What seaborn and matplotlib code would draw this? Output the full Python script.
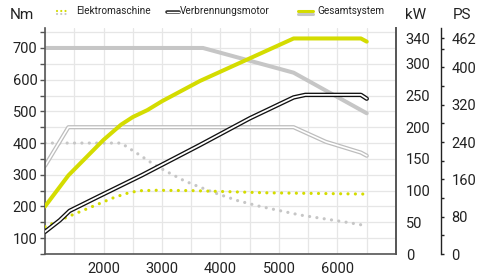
"""
Drehmoment- und Leistungskurven: Elektromaschine, Verbrennungsmotor, Gesamtsystem.
"""

import matplotlib

matplotlib.use("Agg")
import matplotlib.pyplot as plt
import seaborn as sns
from matplotlib.lines import Line2D
from matplotlib.ticker import FixedLocator, MultipleLocator

# --- data (rpm vs Nm / kW) -------------------------------------------------
gesamt_nm_rpm = [1000, 3700, 5250, 6500]
gesamt_nm = [700, 700, 622, 494]

gesamt_kw_rpm = [1000, 1400, 2000, 2300, 2500, 2750, 3000, 3650, 5250, 6400, 6500]
gesamt_kw = [75, 124, 180, 204, 216, 227, 241, 273, 340, 340, 335]

vm_nm_rpm = [1000, 1400, 5250, 5800, 6400, 6500]
vm_nm = [328, 450, 450, 404, 370, 360]

vm_kw_rpm = [1000, 1250, 1420, 1900, 2650, 3650, 4500, 5250, 5450, 6400, 6500]
vm_kw = [35, 53, 68, 90, 124, 172, 214, 247, 251, 251, 245]

em_nm_rpm = [1000, 2300, 2620, 2850, 3050, 3380, 3620, 3930, 4300, 4680, 5360, 6160, 6500]
em_nm = [400, 400, 362, 334, 313, 281, 263, 241, 218, 200, 173, 150, 139]

em_kw_rpm = [1000, 1450, 1800, 2150, 2370, 2600, 2900, 3500, 4800, 6500]
em_kw = [43, 61, 74.5, 88, 95, 99.8, 100.5, 100, 96.5, 94.5]

legend_labels = ["Elektromaschine", "Verbrennungsmotor", "Gesamtsystem"]
ps_ticks = [0, 80, 160, 240, 320, 400, 462]
kw_ticks = [0, 50, 100, 150, 200, 250, 300, 340]

YELLOW = "#d4dc00"
GRAY = "#c6c6c6"
AXIS = "#555555"
W, H = 489, 274

NM_LIM = (50, 763)
KW_LIM = (0, (NM_LIM[1] - NM_LIM[0]) / 2)
PS_LIM = (0, KW_LIM[1] * 462 / 340)
FONT = ["Roboto", "DejaVu Sans"]


def fx(px):
    return px / W


def fy(py):
    return 1 - py / H


sns.set_theme(style="white")
plt.rcParams["font.family"] = FONT
plt.rcParams["text.color"] = "#222222"
plt.rcParams["xtick.color"] = AXIS
plt.rcParams["ytick.color"] = AXIS
plt.rcParams["xtick.labelcolor"] = "#222222"
plt.rcParams["ytick.labelcolor"] = "#222222"

fig = plt.figure(figsize=(W / 100, H / 100), dpi=100)
ax = fig.add_axes([fx(45), 1 - 254 / H, (396 - 45) / W, (254 - 28) / H])
ax2 = ax.twinx()
ax3 = ax.twinx()

dot = dict(linestyle=(0, (0.01, 2.3)), dash_capstyle="round", linewidth=2.3)

# torque lines (Nm axis)
sns.lineplot(x=em_nm_rpm, y=em_nm, ax=ax, color=GRAY, **dot)
sns.lineplot(x=vm_nm_rpm, y=vm_nm, ax=ax, color="#bdbdbd", linewidth=3.0,
             solid_joinstyle="round")
sns.lineplot(x=vm_nm_rpm, y=vm_nm, ax=ax, color="white", linewidth=1.2,
             solid_joinstyle="round")
sns.lineplot(x=gesamt_nm_rpm, y=gesamt_nm, ax=ax, color=GRAY, linewidth=2.9)

# power lines (kW axis)
sns.lineplot(x=em_kw_rpm, y=em_kw, ax=ax2, color=YELLOW, **dot)
sns.lineplot(x=vm_kw_rpm, y=vm_kw, ax=ax2, color="#111111", linewidth=3.2,
             solid_joinstyle="round")
sns.lineplot(x=vm_kw_rpm, y=vm_kw, ax=ax2, color="white", linewidth=1.3,
             solid_joinstyle="round")
sns.lineplot(x=gesamt_kw_rpm, y=gesamt_kw, ax=ax2, color=YELLOW, linewidth=2.9,
             solid_capstyle="round")

# left axis / x axis
ax.set_xlim(1000, 7000)
ax.set_ylim(*NM_LIM)
ax.xaxis.set_minor_locator(MultipleLocator(500))
ax.set_xticks(range(1000, 7001, 1000))
ax.set_xticklabels(["" if v in (1000, 7000) else str(v) for v in range(1000, 7001, 1000)])
ax.set_yticks(range(100, 701, 100))
ax.yaxis.set_minor_locator(FixedLocator(range(50, 751, 50)))
ax.grid(which="both", color="#e6e6e6", linewidth=0.9)
ax.set_axisbelow(True)
ax.tick_params(axis="both", which="both", direction="out", length=3.5, width=1,
               labelsize=10.5, pad=2)
ax.tick_params(axis="x", which="minor", length=0)
for side in ("left", "bottom"):
    ax.spines[side].set_color(AXIS)
    ax.spines[side].set_linewidth(1.2)
ax.spines["top"].set_visible(False)
ax.spines["right"].set_visible(False)
ax.set_xlabel("")
ax.set_ylabel("")

# kW axis
ax2.set_ylim(*KW_LIM)
ax2.set_yticks(kw_ticks)
ax2.tick_params(axis="y", length=0, labelsize=10.5, pad=7)
ax2.spines["right"].set_color(AXIS)
ax2.spines["right"].set_linewidth(1.4)
for side in ("top", "left", "bottom"):
    ax2.spines[side].set_visible(False)
ax2.set_ylabel("")

# PS axis
ax3.set_ylim(*PS_LIM)
ax3.spines["right"].set_position(("axes", (441 - 45) / (396 - 45)))
ax3.spines["right"].set_color("#222222")
ax3.spines["right"].set_linewidth(1.0)
for side in ("top", "left", "bottom"):
    ax3.spines[side].set_visible(False)
ax3.set_yticks(ps_ticks)
ax3.yaxis.set_minor_locator(FixedLocator(range(40, 441, 80)))
ax3.tick_params(axis="y", which="both", length=2.5, width=1, color="#222222",
                labelsize=10.5, pad=5)

# unit labels
fig.text(fx(10), fy(15), "Nm", fontsize=11, va="center", ha="left")
fig.text(fx(405), fy(15), "kW", fontsize=11, va="center", ha="left")
fig.text(fx(453), fy(15), "PS", fontsize=11, va="center", ha="left")

# legend (custom glyphs)
leg_fs = 7.2
fig.add_artist(Line2D([fx(57), fx(69)], [fy(10.5)] * 2, color=YELLOW,
                      linestyle=(0, (0.01, 1.9)), dash_capstyle="round", linewidth=1.6))
fig.add_artist(Line2D([fx(57), fx(69)], [fy(13.5)] * 2, color=GRAY,
                      linestyle=(0, (0.01, 1.9)), dash_capstyle="round", linewidth=1.6))
fig.text(fx(76), fy(11), legend_labels[0], fontsize=leg_fs, va="center", ha="left")

fig.add_artist(Line2D([fx(167), fx(179)], [fy(12)] * 2, color="#333333", linewidth=2.6))
fig.add_artist(Line2D([fx(167), fx(179)], [fy(12)] * 2, color="white", linewidth=0.9))
fig.text(fx(180), fy(11), legend_labels[1], fontsize=leg_fs, va="center", ha="left")

fig.add_artist(Line2D([fx(298), fx(313)], [fy(10.5)] * 2, color=YELLOW, linewidth=2.2))
fig.add_artist(Line2D([fx(298), fx(313)], [fy(14)] * 2, color=GRAY, linewidth=2.2))
fig.text(fx(317), fy(11), legend_labels[2], fontsize=leg_fs, va="center", ha="left")

fig.savefig("out.png", dpi=100)
plt.close(fig)
